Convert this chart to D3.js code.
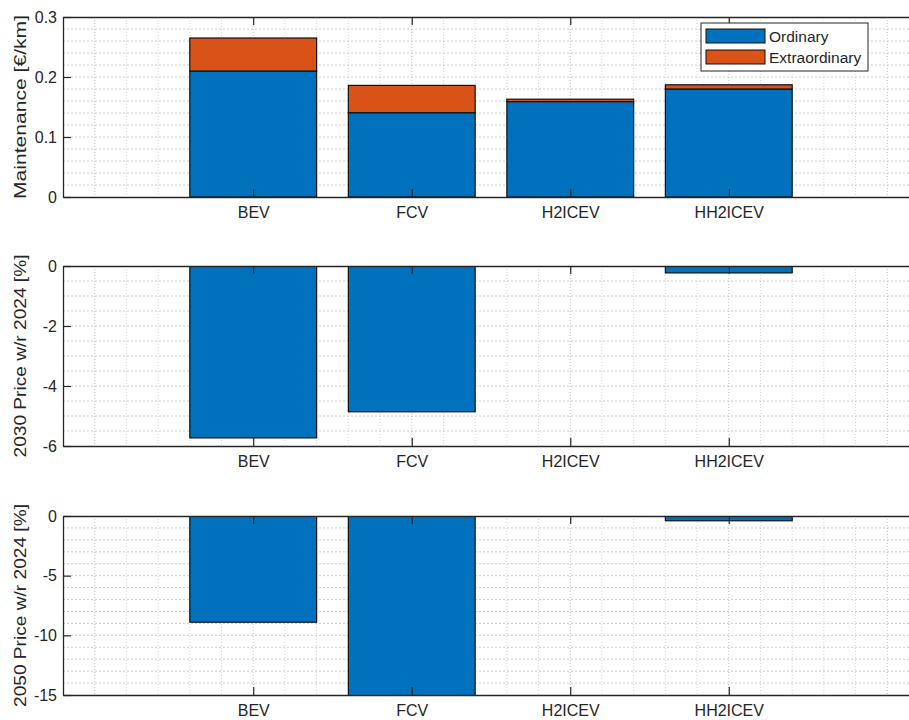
<!DOCTYPE html>
<html>
<head>
<meta charset="utf-8">
<script src="https://cdn.jsdelivr.net/npm/d3@7"></script>
<style>
  body { margin: 0; background: #fff; }
  svg { display: block; overflow: hidden; }
  text { font-family: "Liberation Sans", Arial, Helvetica, sans-serif; fill: #262626; }
</style>
</head>
<body>
<div id="chart"></div>
<script>
// data
var categories = ["BEV", "FCV", "H2ICEV", "HH2ICEV"];
var ordinary = [0.21, 0.1405, 0.159, 0.18];
var extraordinary = [0.055, 0.0455, 0.004, 0.007];
var price2030 = [-5.73, -4.86, 0, -0.23];
var price2050 = [-8.9, -15.6, 0, -0.4];
var seriesNames = ["Ordinary", "Extraordinary"];

var svgWidth = 909;
var svgHeight = 720;
var blue = "#0072BD";
var orange = "#D95319";

var svg = d3.select("#chart")
  .append("svg")
  .attr("width", svgWidth)
  .attr("height", svgHeight);

// shared x: categorical positions 1..4, limits -0.2..5.2 (right edge runs past the window)
var x = d3.scaleLinear().domain([-0.2, 5.2]).range([63, 919]);
var barW = x(0.8) - x(0);

// plain matlab-like labels: "0", "0.1", "-2" (hyphen, no unicode minus)
var plain = function(d) { return String(d); };

var panels = [
  { top: 17, bottom: 197, domain: [0, 0.3], ticks: [0, 0.1, 0.2, 0.3], minor: 0.02,
    title: "Maintenance [\u20AC/km]", titleLen: 184 },
  { top: 266, bottom: 446, domain: [-6, 0], ticks: [-6, -4, -2, 0], minor: 0.5,
    title: "2030 Price w/r 2024 [%]", titleLen: 203 },
  { top: 516, bottom: 695, domain: [-15, 0], ticks: [-15, -10, -5, 0], minor: 1,
    title: "2050 Price w/r 2024 [%]", titleLen: 203 }
];

panels.forEach(function(p, i) {
  var y = d3.scaleLinear().domain(p.domain).range([p.bottom, p.top]);
  var g = svg.append("g");

  svg.append("clipPath").attr("id", "clip" + i)
    .append("rect")
    .attr("x", x(-0.2)).attr("y", p.top)
    .attr("width", x(5.2) - x(-0.2)).attr("height", p.bottom - p.top);

  // grid: vertical lines every 0.2, horizontal minor steps
  var vx = d3.range(-1, 27).map(function(k) { return k * 0.2; })
    .filter(function(v) { return v > -0.19 && v < 5.19; });
  g.selectAll(".vgrid")
    .data(vx)
    .enter()
    .append("line")
    .attr("x1", d => x(d)).attr("x2", d => x(d))
    .attr("y1", p.top).attr("y2", p.bottom)
    .attr("stroke", d => Math.abs(d - Math.round(d)) < 1e-6 ? "#b4b4b4" : "#cacaca")
    .attr("stroke-width", 0.8)
    .attr("stroke-dasharray", "1,2");

  var n = Math.round((p.domain[1] - p.domain[0]) / p.minor);
  var hy = d3.range(1, n).map(function(k) { return p.domain[0] + k * p.minor; });
  g.selectAll(".hgrid")
    .data(hy)
    .enter()
    .append("line")
    .attr("x1", x(-0.2)).attr("x2", x(5.2))
    .attr("y1", d => y(d)).attr("y2", d => y(d))
    .attr("stroke", "#bebebe")
    .attr("stroke-width", 0.8)
    .attr("stroke-dasharray", "2,2");

  var bars = g.append("g").attr("clip-path", "url(#clip" + i + ")");

  if (i === 0) {
    var rows = categories.map(function(c, j) {
      return { cat: j + 1, Ordinary: ordinary[j], Extraordinary: extraordinary[j] };
    });
    var stacked = d3.stack().keys(seriesNames)(rows);
    bars.selectAll("g")
      .data(stacked)
      .enter()
      .append("g")
      .attr("fill", (d, k) => k === 0 ? blue : orange)
      .selectAll("rect")
      .data(d => d)
      .enter()
      .append("rect")
      .attr("x", d => x(d.data.cat) - barW / 2)
      .attr("width", barW)
      .attr("y", d => y(d[1]))
      .attr("height", d => Math.max(0, y(d[0]) - y(d[1])))
      .attr("stroke", "#111")
      .attr("stroke-width", 1.2);
  } else {
    var vals = i === 1 ? price2030 : price2050;
    bars.selectAll("rect")
      .data(vals)
      .enter()
      .append("rect")
      .attr("x", (d, j) => x(j + 1) - barW / 2)
      .attr("width", barW)
      .attr("y", y(0))
      .attr("height", d => Math.max(0, y(d) - y(0)))
      .attr("fill", blue)
      .attr("stroke", "#111")
      .attr("stroke-width", 1.2);
  }

  // axes with inward ticks
  var leftAxis = d3.axisLeft(y).tickValues(p.ticks).tickFormat(plain)
    .tickSizeInner(-8).tickSizeOuter(0).tickPadding(6);
  var gl = svg.append("g")
    .attr("transform", `translate(${x(-0.2)},0)`)
    .call(leftAxis);

  var bottomAxis = d3.axisBottom(x).tickValues([1, 2, 3, 4])
    .tickFormat((d, k) => categories[k])
    .tickSizeInner(-8).tickSizeOuter(0).tickPadding(10);
  var gb = svg.append("g")
    .attr("transform", `translate(0,${p.bottom})`)
    .call(bottomAxis);

  var topAxis = d3.axisTop(x).tickValues([1, 2, 3, 4])
    .tickFormat("").tickSizeInner(-8).tickSizeOuter(0);
  var gt = svg.append("g")
    .attr("transform", `translate(0,${p.top})`)
    .call(topAxis);

  [gl, gb, gt].forEach(function(a) {
    a.select(".domain").attr("stroke", "#262626").attr("stroke-width", 1.3);
    a.selectAll(".tick line").attr("stroke", "#262626").attr("stroke-width", 1.2);
    a.selectAll("text")
      .attr("font-size", 16)
      .attr("font-family", "'Liberation Sans', Arial, sans-serif")
      .attr("fill", "#262626");
  });

  // y title
  svg.append("text")
    .attr("transform", `translate(26,${(p.top + p.bottom) / 2}) rotate(-90)`)
    .attr("text-anchor", "middle")
    .attr("font-size", 16)
    .attr("textLength", p.titleLen)
    .attr("lengthAdjust", "spacingAndGlyphs")
    .text(p.title);
});

// legend for top panel
var legend = svg.append("g").attr("transform", "translate(701,23)");
legend.append("rect")
  .attr("width", 167).attr("height", 48)
  .attr("fill", "#fff").attr("stroke", "#262626").attr("stroke-width", 1);
legend.selectAll(".sw")
  .data(seriesNames)
  .enter()
  .append("rect")
  .attr("x", 5)
  .attr("y", (d, k) => 6 + k * 21)
  .attr("width", 59).attr("height", 14)
  .attr("fill", (d, k) => k === 0 ? blue : orange)
  .attr("stroke", "#111").attr("stroke-width", 1);
legend.selectAll(".lt")
  .data(seriesNames)
  .enter()
  .append("text")
  .attr("x", 68)
  .attr("y", (d, k) => 19 + k * 21)
  .attr("font-size", 15.5)
  .text(d => d);
</script>
</body>
</html>
